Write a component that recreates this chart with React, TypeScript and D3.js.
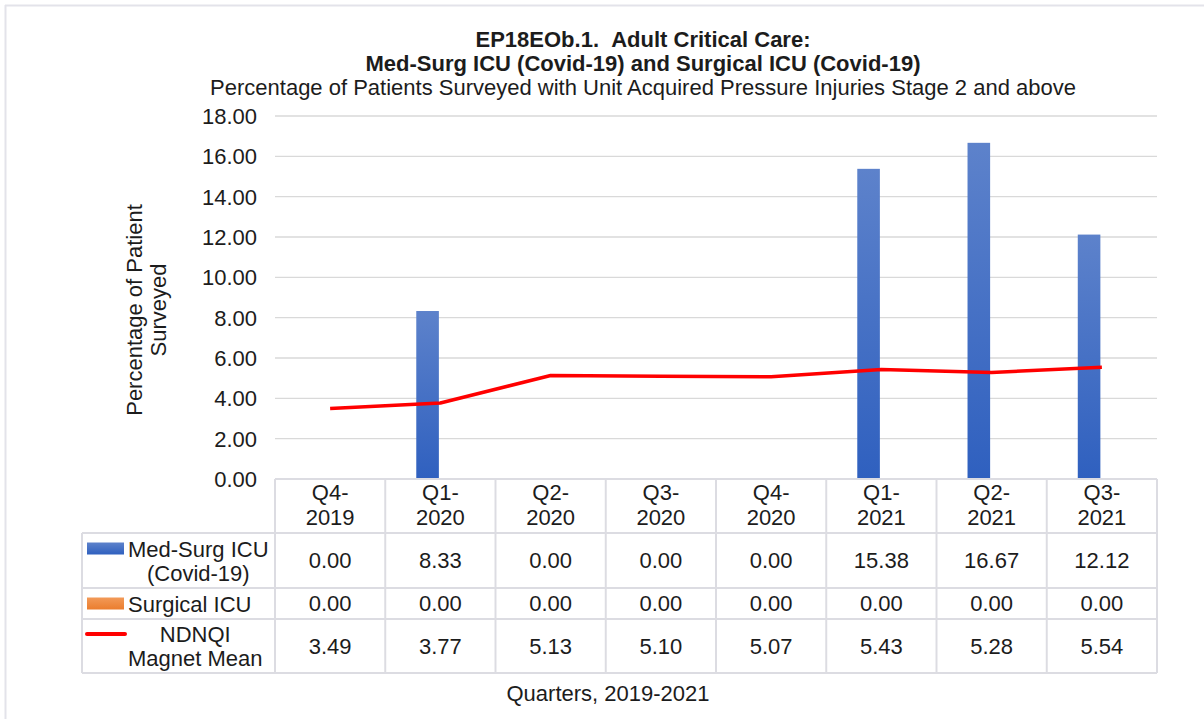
import React from "react";
import * as d3 from "d3";

const categories = ["Q4-2019", "Q1-2020", "Q2-2020", "Q3-2020", "Q4-2020", "Q1-2021", "Q2-2021", "Q3-2021"];
const medSurg = [0.0, 8.33, 0.0, 0.0, 0.0, 15.38, 16.67, 12.12];
const surgical = [0.0, 0.0, 0.0, 0.0, 0.0, 0.0, 0.0, 0.0];
const ndnqi = [3.49, 3.77, 5.13, 5.1, 5.07, 5.43, 5.28, 5.54];
const yTicks = [0, 2, 4, 6, 8, 10, 12, 14, 16, 18];

const seriesRows = [
  { lines: ["Med-Surg ICU", "(Covid-19)"], values: medSurg, key: "bar", color: "url(#blueGrad)" },
  { lines: ["Surgical ICU"], values: surgical, key: "bar", color: "url(#orangeGrad)" },
  { lines: ["NDNQI", "Magnet Mean"], values: ndnqi, key: "line", color: "#ff0000" },
];

const FONT = "'Liberation Sans', Arial, sans-serif";
const TEXT = "#1c1c1c";
const GRID = "#d9d9d9";
const TABLE_LINE = "#dcdce2";

function measure(text: string, size: number): number {
  const c = document.createElement("canvas").getContext("2d");
  if (!c) return text.length * size * 0.5;
  c.font = `${size}px ${FONT}`;
  return c.measureText(text).width;
}

export default function App() {
  const W = 1204;
  const H = 719;
  const plotL = 275;
  const plotR = 1157;
  const plotT = 116;
  const plotB = 479;
  const tableL = 82;
  const rowEdges = [479, 533, 588, 619, 673];
  const fs = 22;

  const x = d3.scaleBand<string>().domain(categories).range([plotL, plotR]).paddingInner(0).paddingOuter(0);
  const y = d3.scaleLinear().domain([0, 18]).range([plotB, plotT]);
  const bw = x.bandwidth();
  const barW = bw * 0.205;
  const cx = (c: string) => (x(c) as number) + bw / 2;

  const linePath = d3
    .line<number>()
    .x((_, i) => cx(categories[i]))
    .y((v) => y(v))(ndnqi) as string;

  const colEdges = categories.map((c) => x(c) as number).concat([plotR]);

  return (
    <svg width={W} height={H} style={{ position: "absolute", left: 0, top: 0, background: "#fff" }} fontFamily={FONT}>
      <defs>
        <linearGradient id="blueGrad" x1="0" y1="0" x2="0" y2="1">
          <stop offset="0" stopColor="#5d82cb" />
          <stop offset="1" stopColor="#2f60bf" />
        </linearGradient>
        <linearGradient id="orangeGrad" x1="0" y1="0" x2="0" y2="1">
          <stop offset="0" stopColor="#f29a58" />
          <stop offset="1" stopColor="#eb7d2e" />
        </linearGradient>
      </defs>
      <rect x={0} y={0} width={W} height={H} fill="#fff" />
      {/* outer chart border */}
      <line x1={5} y1={5.5} x2={W} y2={5.5} stroke="#e3e3ea" strokeWidth={2} />
      <line x1={5.5} y1={5} x2={5.5} y2={H} stroke="#e3e3ea" strokeWidth={2} />

      {/* titles */}
      <text x={643} y={47} textAnchor="middle" fontSize={fs} fontWeight="bold" fill={TEXT}>
        EP18EOb.1.{"\u00a0\u00a0"}Adult Critical Care:
      </text>
      <text x={643} y={71} textAnchor="middle" fontSize={fs} fontWeight="bold" fill={TEXT}>
        Med-Surg ICU (Covid-19) and Surgical ICU (Covid-19)
      </text>
      <text x={643} y={95} textAnchor="middle" fontSize={fs} fill={TEXT}>
        Percentage of Patients Surveyed with Unit Acquired Pressure Injuries Stage 2 and above
      </text>

      {/* gridlines */}
      {yTicks.map((t) => (
        <line key={t} x1={plotL} x2={plotR} y1={y(t)} y2={y(t)} stroke={GRID} strokeWidth={1.3} />
      ))}
      {/* y tick labels */}
      {yTicks.map((t) => (
        <text key={"l" + t} x={257} y={y(t) + 8} textAnchor="end" fontSize={fs} fill={TEXT}>
          {t.toFixed(2)}
        </text>
      ))}
      {/* y axis title */}
      <g transform="translate(145,310) rotate(-90)">
        <text x={0} y={-3} textAnchor="middle" fontSize={fs} fill={TEXT}>
          Percentage of Patient
        </text>
        <text x={0} y={21} textAnchor="middle" fontSize={fs} fill={TEXT}>
          Surveyed
        </text>
      </g>

      {/* bars */}
      {medSurg.map((v, i) => (
        <rect
          key={"m" + i}
          x={cx(categories[i]) - barW - 1.5}
          y={y(v)}
          width={barW}
          height={plotB - y(v)}
          fill="url(#blueGrad)"
        />
      ))}
      {surgical.map((v, i) => (
        <rect
          key={"s" + i}
          x={cx(categories[i]) - 1.5}
          y={y(v)}
          width={barW}
          height={plotB - y(v)}
          fill="url(#orangeGrad)"
        />
      ))}
      {/* line */}
      <path d={linePath} fill="none" stroke="#ff0000" strokeWidth={3.5} strokeLinejoin="round" />

      {/* data table */}
      <line x1={plotL} x2={plotR} y1={rowEdges[0]} y2={rowEdges[0]} stroke={TABLE_LINE} strokeWidth={2} />
      {rowEdges.slice(1).map((ry, i) => (
        <line key={"h" + i} x1={tableL} x2={plotR} y1={ry} y2={ry} stroke={TABLE_LINE} strokeWidth={2} />
      ))}
      {colEdges.map((cxe, i) => (
        <line key={"v" + i} x1={cxe} x2={cxe} y1={rowEdges[0]} y2={rowEdges[4]} stroke={TABLE_LINE} strokeWidth={2} />
      ))}
      <line x1={tableL} x2={tableL} y1={rowEdges[1]} y2={rowEdges[4]} stroke={TABLE_LINE} strokeWidth={2} />

      {/* header category labels */}
      {categories.map((c) => {
        const [q, yr] = c.split("-");
        return (
          <text key={"c" + c} x={cx(c)} textAnchor="middle" fontSize={fs} fill={TEXT}>
            <tspan x={cx(c)} y={500}>{q + "-"}</tspan>
            <tspan x={cx(c)} y={525}>{yr}</tspan>
          </text>
        );
      })}

      {/* rows */}
      {seriesRows.map((row, ri) => {
        const top = rowEdges[ri + 1];
        const bot = rowEdges[ri + 2];
        const mid = (top + bot) / 2;
        const lh = 24;
        const n = row.lines.length;
        const firstY = mid - ((n - 1) * lh) / 2 + 8;
        const blockL = 128;
        const blockW = Math.max(...row.lines.map((l) => measure(l, fs)));
        const keyY = firstY - 8;
        return (
          <g key={"r" + ri}>
            {row.key === "bar" ? (
              <rect x={87} y={keyY - 6} width={37} height={12} fill={row.color} />
            ) : (
              <line x1={87} x2={125} y1={keyY} y2={keyY} stroke={row.color} strokeWidth={4} strokeLinecap="round" />
            )}
            {row.lines.map((l, li) => (
              <text
                key={li}
                x={blockL + blockW / 2}
                y={firstY + li * lh}
                textAnchor="middle"
                fontSize={fs}
                fill={TEXT}
              >
                {l}
              </text>
            ))}
            {row.values.map((v, i) => (
              <text key={"v" + i} x={cx(categories[i])} y={mid + 7.5} textAnchor="middle" fontSize={fs} fill={TEXT}>
                {v.toFixed(2)}
              </text>
            ))}
          </g>
        );
      })}

      {/* x axis title */}
      <text x={608} y={701} textAnchor="middle" fontSize={fs} fill={TEXT}>
        Quarters, 2019-2021
      </text>
    </svg>
  );
}
